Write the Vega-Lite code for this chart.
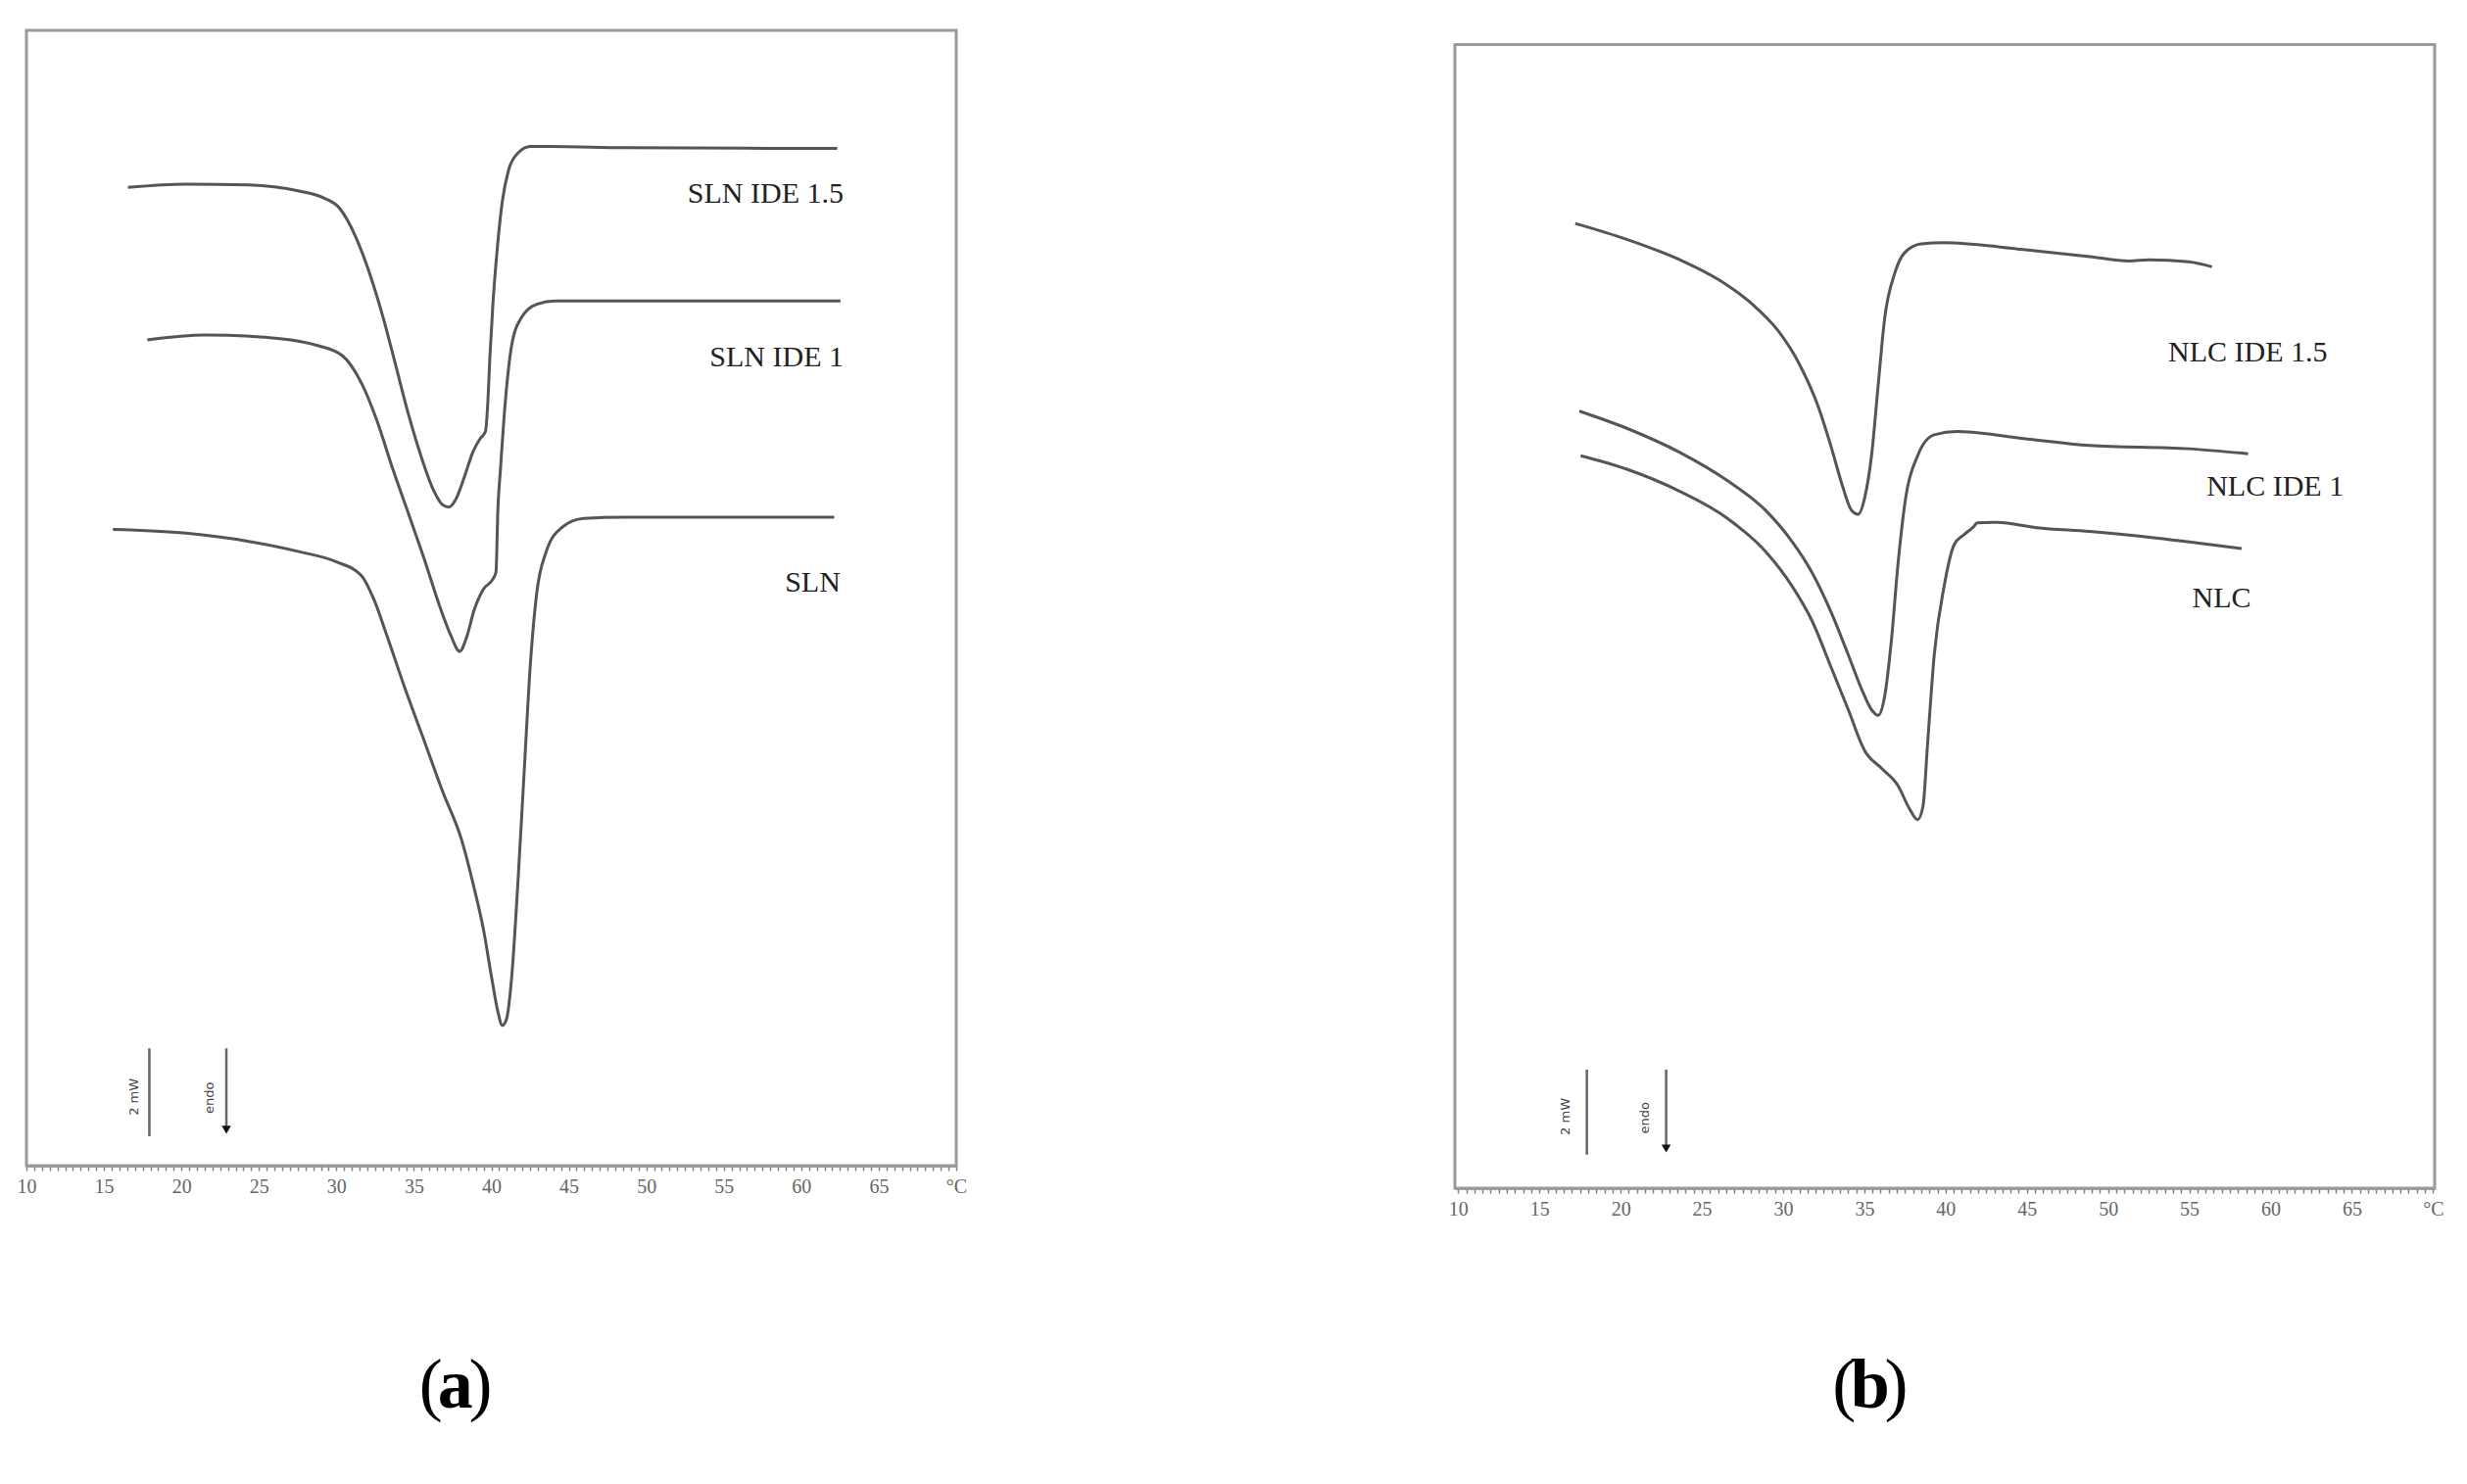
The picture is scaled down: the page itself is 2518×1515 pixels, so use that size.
{
  "$schema": "https://vega.github.io/schema/vega-lite/v6.json",
  "background": "white",
  "padding": {"left": 17, "top": 29, "right": 10, "bottom": 10},
  "autosize": {"type": "pad"},
  "bounds": "flush",
  "spacing": 509,
  "config": {
    "view": {"stroke": null},
    "axisY": {"disable": true},
    "axisX": {
      "grid": false,
      "domainColor": "#808080",
      "domainWidth": 2.5,
      "tickColor": "#808080",
      "tickWidth": 1.5,
      "tickSize": 5,
      "labelFont": "Liberation Sans Narrow",
      "labelFontSize": 20,
      "labelColor": "#666666",
      "labelPadding": 6,
      "labelOverlap": false,
      "labelBound": false,
      "labelFlush": false
    }
  },
  "datasets": {
    "curvesA": [
      {"s":"SLN IDE 1.5","T":16.55,"v":23.93},{"s":"SLN IDE 1.5","T":20.30,"v":24.01},{"s":"SLN IDE 1.5","T":24.34,"v":23.99},{"s":"SLN IDE 1.5","T":27.58,"v":23.84},{"s":"SLN IDE 1.5","T":29.19,"v":23.67},{"s":"SLN IDE 1.5","T":30.20,"v":23.42},{"s":"SLN IDE 1.5","T":31.21,"v":22.75},{"s":"SLN IDE 1.5","T":32.22,"v":21.74},{"s":"SLN IDE 1.5","T":33.03,"v":20.73},{"s":"SLN IDE 1.5","T":33.84,"v":19.56},{"s":"SLN IDE 1.5","T":34.65,"v":18.38},{"s":"SLN IDE 1.5","T":35.45,"v":17.37},{"s":"SLN IDE 1.5","T":36.26,"v":16.53},{"s":"SLN IDE 1.5","T":36.87,"v":16.16},{"s":"SLN IDE 1.5","T":37.27,"v":16.11},{"s":"SLN IDE 1.5","T":37.68,"v":16.28},{"s":"SLN IDE 1.5","T":38.28,"v":16.87},{"s":"SLN IDE 1.5","T":38.81,"v":17.46},{"s":"SLN IDE 1.5","T":39.29,"v":17.79},{"s":"SLN IDE 1.5","T":39.62,"v":17.96},{"s":"SLN IDE 1.5","T":39.78,"v":18.72},{"s":"SLN IDE 1.5","T":39.90,"v":19.73},{"s":"SLN IDE 1.5","T":40.10,"v":21.07},{"s":"SLN IDE 1.5","T":40.38,"v":22.42},{"s":"SLN IDE 1.5","T":40.71,"v":23.59},{"s":"SLN IDE 1.5","T":41.11,"v":24.35},{"s":"SLN IDE 1.5","T":41.72,"v":24.77},{"s":"SLN IDE 1.5","T":42.53,"v":24.93},{"s":"SLN IDE 1.5","T":43.74,"v":24.93},{"s":"SLN IDE 1.5","T":48.59,"v":24.90},{"s":"SLN IDE 1.5","T":62.32,"v":24.88},
      {"s":"SLN IDE 1","T":17.80,"v":20.20},{"s":"SLN IDE 1","T":21.52,"v":20.32},{"s":"SLN IDE 1","T":26.36,"v":20.23},{"s":"SLN IDE 1","T":28.79,"v":20.06},{"s":"SLN IDE 1","T":30.40,"v":19.81},{"s":"SLN IDE 1","T":31.62,"v":19.14},{"s":"SLN IDE 1","T":32.63,"v":18.21},{"s":"SLN IDE 1","T":33.64,"v":17.04},{"s":"SLN IDE 1","T":34.65,"v":15.95},{"s":"SLN IDE 1","T":35.66,"v":14.85},{"s":"SLN IDE 1","T":36.67,"v":13.68},{"s":"SLN IDE 1","T":37.35,"v":13.00},{"s":"SLN IDE 1","T":37.96,"v":12.58},{"s":"SLN IDE 1","T":38.40,"v":12.92},{"s":"SLN IDE 1","T":38.89,"v":13.59},{"s":"SLN IDE 1","T":39.49,"v":14.10},{"s":"SLN IDE 1","T":40.10,"v":14.35},{"s":"SLN IDE 1","T":40.30,"v":14.52},{"s":"SLN IDE 1","T":40.42,"v":16.03},{"s":"SLN IDE 1","T":40.59,"v":17.04},{"s":"SLN IDE 1","T":40.91,"v":18.72},{"s":"SLN IDE 1","T":41.31,"v":20.06},{"s":"SLN IDE 1","T":41.92,"v":20.73},{"s":"SLN IDE 1","T":42.93,"v":21.07},{"s":"SLN IDE 1","T":44.14,"v":21.15},{"s":"SLN IDE 1","T":62.53,"v":21.15},
      {"s":"SLN","T":15.58,"v":15.56},{"s":"SLN","T":20.30,"v":15.47},{"s":"SLN","T":24.34,"v":15.27},{"s":"SLN","T":27.58,"v":15.02},{"s":"SLN","T":30.00,"v":14.77},{"s":"SLN","T":31.62,"v":14.43},{"s":"SLN","T":32.42,"v":13.85},{"s":"SLN","T":33.23,"v":13.00},{"s":"SLN","T":34.44,"v":11.66},{"s":"SLN","T":35.66,"v":10.40},{"s":"SLN","T":36.87,"v":9.14},{"s":"SLN","T":38.08,"v":7.97},{"s":"SLN","T":38.89,"v":6.79},{"s":"SLN","T":39.49,"v":5.78},{"s":"SLN","T":40.02,"v":4.60},{"s":"SLN","T":40.42,"v":3.77},{"s":"SLN","T":40.71,"v":3.43},{"s":"SLN","T":40.99,"v":3.60},{"s":"SLN","T":41.31,"v":4.60},{"s":"SLN","T":41.72,"v":6.96},{"s":"SLN","T":42.12,"v":9.65},{"s":"SLN","T":42.53,"v":12.33},{"s":"SLN","T":42.93,"v":14.01},{"s":"SLN","T":43.54,"v":15.02},{"s":"SLN","T":44.55,"v":15.61},{"s":"SLN","T":45.96,"v":15.83},{"s":"SLN","T":48.59,"v":15.86},{"s":"SLN","T":62.12,"v":15.86}
    ],
    "curvesB": [
      {"s":"NLC IDE 1.5","T":17.21,"v":23.59},{"s":"NLC IDE 1.5","T":20.38,"v":23.20},{"s":"NLC IDE 1.5","T":23.64,"v":22.70},{"s":"NLC IDE 1.5","T":26.08,"v":22.20},{"s":"NLC IDE 1.5","T":28.11,"v":21.61},{"s":"NLC IDE 1.5","T":29.74,"v":20.94},{"s":"NLC IDE 1.5","T":30.96,"v":20.18},{"s":"NLC IDE 1.5","T":32.18,"v":19.09},{"s":"NLC IDE 1.5","T":32.99,"v":18.08},{"s":"NLC IDE 1.5","T":33.60,"v":17.24},{"s":"NLC IDE 1.5","T":34.22,"v":16.57},{"s":"NLC IDE 1.5","T":34.62,"v":16.48},{"s":"NLC IDE 1.5","T":35.03,"v":16.90},{"s":"NLC IDE 1.5","T":35.44,"v":17.91},{"s":"NLC IDE 1.5","T":35.84,"v":19.59},{"s":"NLC IDE 1.5","T":36.25,"v":21.27},{"s":"NLC IDE 1.5","T":36.86,"v":22.36},{"s":"NLC IDE 1.5","T":37.47,"v":22.87},{"s":"NLC IDE 1.5","T":38.49,"v":23.09},{"s":"NLC IDE 1.5","T":39.91,"v":23.12},{"s":"NLC IDE 1.5","T":44.79,"v":22.95},{"s":"NLC IDE 1.5","T":48.86,"v":22.78},{"s":"NLC IDE 1.5","T":51.30,"v":22.67},{"s":"NLC IDE 1.5","T":52.52,"v":22.70},{"s":"NLC IDE 1.5","T":54.96,"v":22.65},{"s":"NLC IDE 1.5","T":56.39,"v":22.53},
      {"s":"NLC IDE 1","T":17.46,"v":19.00},{"s":"NLC IDE 1","T":20.38,"v":18.58},{"s":"NLC IDE 1","T":23.64,"v":17.99},{"s":"NLC IDE 1","T":26.49,"v":17.32},{"s":"NLC IDE 1","T":28.93,"v":16.57},{"s":"NLC IDE 1","T":30.55,"v":15.81},{"s":"NLC IDE 1","T":31.77,"v":15.06},{"s":"NLC IDE 1","T":32.99,"v":14.05},{"s":"NLC IDE 1","T":34.01,"v":13.04},{"s":"NLC IDE 1","T":34.83,"v":12.20},{"s":"NLC IDE 1","T":35.44,"v":11.70},{"s":"NLC IDE 1","T":35.84,"v":11.56},{"s":"NLC IDE 1","T":36.25,"v":12.03},{"s":"NLC IDE 1","T":36.66,"v":13.38},{"s":"NLC IDE 1","T":37.06,"v":15.22},{"s":"NLC IDE 1","T":37.55,"v":16.90},{"s":"NLC IDE 1","T":38.28,"v":17.91},{"s":"NLC IDE 1","T":39.30,"v":18.42},{"s":"NLC IDE 1","T":40.72,"v":18.50},{"s":"NLC IDE 1","T":44.79,"v":18.33},{"s":"NLC IDE 1","T":48.86,"v":18.16},{"s":"NLC IDE 1","T":54.96,"v":18.08},{"s":"NLC IDE 1","T":58.62,"v":17.96},
      {"s":"NLC","T":17.54,"v":17.91},{"s":"NLC","T":20.38,"v":17.58},{"s":"NLC","T":23.64,"v":17.04},{"s":"NLC","T":26.49,"v":16.40},{"s":"NLC","T":28.93,"v":15.56},{"s":"NLC","T":30.55,"v":14.72},{"s":"NLC","T":31.77,"v":13.88},{"s":"NLC","T":32.99,"v":12.70},{"s":"NLC","T":34.01,"v":11.70},{"s":"NLC","T":35.03,"v":10.69},{"s":"NLC","T":36.05,"v":10.27},{"s":"NLC","T":37.06,"v":9.85},{"s":"NLC","T":37.80,"v":9.26},{"s":"NLC","T":38.28,"v":9.01},{"s":"NLC","T":38.61,"v":9.34},{"s":"NLC","T":38.89,"v":10.86},{"s":"NLC","T":39.30,"v":13.04},{"s":"NLC","T":39.91,"v":14.72},{"s":"NLC","T":40.52,"v":15.73},{"s":"NLC","T":41.13,"v":15.98},{"s":"NLC","T":41.74,"v":16.18},{"s":"NLC","T":41.94,"v":16.27},{"s":"NLC","T":43.17,"v":16.28},{"s":"NLC","T":45.60,"v":16.15},{"s":"NLC","T":48.86,"v":16.06},{"s":"NLC","T":52.93,"v":15.90},{"s":"NLC","T":58.22,"v":15.64}
    ],
    "labelsA": [
      {"t":"SLN IDE 1.5","T":62.73,"v":23.76},
      {"t":"SLN IDE 1","T":62.73,"v":19.76},
      {"t":"SLN","T":62.53,"v":14.26}
    ],
    "labelsB": [
      {"t":"NLC IDE 1.5","T":63.5,"v":20.43},
      {"t":"NLC IDE 1","T":64.5,"v":17.16},
      {"t":"NLC","T":58.8,"v":14.42}
    ]
  },
  "hconcat": [
    {
      "width": 949,
      "height": 1159,
      "layer": [
        {
          "data": {"values": [{"T":10,"T2":70,"v":0,"v2":27.77}]},
          "mark": {"type": "rect", "fillOpacity": 0, "stroke": "#9a9a9a", "strokeWidth": 3},
          "encoding": {
            "x": {"field": "T", "type": "quantitative", "title": null, "scale": {"domain": [10, 70], "nice": false, "zero": false},
              "axis": {
                "tickCount": 300,
                "values": [10,10.5,11,11.5,12,12.5,13,13.5,14,14.5,15,15.5,16,16.5,17,17.5,18,18.5,19,19.5,20,20.5,21,21.5,22,22.5,23,23.5,24,24.5,25,25.5,26,26.5,27,27.5,28,28.5,29,29.5,30,30.5,31,31.5,32,32.5,33,33.5,34,34.5,35,35.5,36,36.5,37,37.5,38,38.5,39,39.5,40,40.5,41,41.5,42,42.5,43,43.5,44,44.5,45,45.5,46,46.5,47,47.5,48,48.5,49,49.5,50,50.5,51,51.5,52,52.5,53,53.5,54,54.5,55,55.5,56,56.5,57,57.5,58,58.5,59,59.5,60,60.5,61,61.5,62,62.5,63,63.5,64,64.5,65,65.5,66,66.5,67,67.5,68,68.5,69,69.5,70],
                "labelExpr": "datum.value % 5 === 0 ? (datum.value === 70 ? '°C' : format(datum.value, 'd')) : ''",
                "labelOverlap": false
              }
            },
            "x2": {"field": "T2"},
            "y": {"field": "v", "type": "quantitative", "title": null, "axis": null, "scale": {"domain": [0, 27.77], "nice": false, "zero": false}},
            "y2": {"field": "v2"}
          }
        },
        {
          "data": {"name": "curvesA"},
          "mark": {"type": "line", "color": "#555555", "strokeWidth": 3, "interpolate": "monotone"},
          "encoding": {
            "x": {"field": "T", "type": "quantitative", "title": null},
            "y": {"field": "v", "type": "quantitative", "title": null, "axis": null},
            "detail": {"field": "s"}
          }
        },
        {
          "data": {"name": "labelsA"},
          "mark": {"type": "text", "align": "right", "baseline": "middle", "font": "Liberation Serif", "fontSize": 30, "color": "#222222"},
          "encoding": {
            "x": {"field": "T", "type": "quantitative", "title": null},
            "y": {"field": "v", "type": "quantitative", "title": null, "axis": null},
            "text": {"field": "t"}
          }
        },
        {
          "data": {"values": [{"T":17.93,"v":2.87,"v2":0.72,"k":"bar"},{"T":22.9,"v":2.87,"v2":0.9,"k":"endo"}]},
          "mark": {"type": "rule", "color": "#666666", "strokeWidth": 2.5},
          "encoding": {
            "x": {"field": "T", "type": "quantitative", "title": null},
            "y": {"field": "v", "type": "quantitative", "title": null, "axis": null},
            "y2": {"field": "v2"}
          }
        },
        {
          "data": {"values": [{"T":22.9,"v":0.88}]},
          "mark": {"type": "point", "shape": "triangle-down", "filled": true, "color": "#111111", "size": 90, "opacity": 1},
          "encoding": {
            "x": {"field": "T", "type": "quantitative", "title": null},
            "y": {"field": "v", "type": "quantitative", "title": null, "axis": null}
          }
        },
        {
          "data": {"values": [{"t":"2 mW","T":16.95,"v":1.68},{"t":"endo","T":21.85,"v":1.66}]},
          "mark": {"type": "text", "angle": 270, "align": "center", "baseline": "middle", "font": "DejaVu Sans", "fontSize": 13, "color": "#444444"},
          "encoding": {
            "x": {"field": "T", "type": "quantitative", "title": null},
            "y": {"field": "v", "type": "quantitative", "title": null, "axis": null},
            "text": {"field": "t"}
          }
        },
        {
          "data": {"values": [{"t":"(","T":36.1,"v":-5.38,"a":"right"},{"t":")","T":39.3,"v":-5.38,"a":"left"}]},
          "mark": {"type": "text", "baseline": "middle", "font": "Liberation Serif", "fontSize": 72, "color": "#000000"},
          "encoding": {
            "x": {"field": "T", "type": "quantitative", "title": null},
            "y": {"field": "v", "type": "quantitative", "title": null, "axis": null},
            "text": {"field": "t"},
            "align": {"field": "a", "type": "nominal", "scale": null, "legend": null}
          }
        },
        {
          "data": {"values": [{"t":"a","T":37.67,"v":-5.38}]},
          "mark": {"type": "text", "align": "center", "baseline": "middle", "font": "Liberation Serif", "fontSize": 72, "fontWeight": "bold", "color": "#000000"},
          "encoding": {
            "x": {"field": "T", "type": "quantitative", "title": null},
            "y": {"field": "v", "type": "quantitative", "title": null, "axis": null},
            "text": {"field": "t"}
          }
        }
      ]
    },
    {
      "width": 1000,
      "height": 1182,
      "layer": [
        {
          "data": {"values": [{"T":9.8,"T2":70.1,"v":0,"v2":27.96}]},
          "mark": {"type": "rect", "fillOpacity": 0, "stroke": "#9a9a9a", "strokeWidth": 3},
          "encoding": {
            "x": {"field": "T", "type": "quantitative", "title": null, "scale": {"domain": [9.8, 70.1], "nice": false, "zero": false},
              "axis": {
                "tickCount": 300,
                "values": [10,10.5,11,11.5,12,12.5,13,13.5,14,14.5,15,15.5,16,16.5,17,17.5,18,18.5,19,19.5,20,20.5,21,21.5,22,22.5,23,23.5,24,24.5,25,25.5,26,26.5,27,27.5,28,28.5,29,29.5,30,30.5,31,31.5,32,32.5,33,33.5,34,34.5,35,35.5,36,36.5,37,37.5,38,38.5,39,39.5,40,40.5,41,41.5,42,42.5,43,43.5,44,44.5,45,45.5,46,46.5,47,47.5,48,48.5,49,49.5,50,50.5,51,51.5,52,52.5,53,53.5,54,54.5,55,55.5,56,56.5,57,57.5,58,58.5,59,59.5,60,60.5,61,61.5,62,62.5,63,63.5,64,64.5,65,65.5,66,66.5,67,67.5,68,68.5,69,69.5,70],
                "labelExpr": "datum.value % 5 === 0 ? (datum.value === 70 ? '°C' : format(datum.value, 'd')) : ''",
                "labelOverlap": false
              }
            },
            "x2": {"field": "T2"},
            "y": {"field": "v", "type": "quantitative", "title": null, "axis": null, "scale": {"domain": [0, 28.31], "nice": false, "zero": false}},
            "y2": {"field": "v2"}
          }
        },
        {
          "data": {"name": "curvesB"},
          "mark": {"type": "line", "color": "#555555", "strokeWidth": 3, "interpolate": "monotone"},
          "encoding": {
            "x": {"field": "T", "type": "quantitative", "title": null},
            "y": {"field": "v", "type": "quantitative", "title": null, "axis": null},
            "detail": {"field": "s"}
          }
        },
        {
          "data": {"name": "labelsB"},
          "mark": {"type": "text", "align": "right", "baseline": "middle", "font": "Liberation Serif", "fontSize": 30, "color": "#222222"},
          "encoding": {
            "x": {"field": "T", "type": "quantitative", "title": null},
            "y": {"field": "v", "type": "quantitative", "title": null, "axis": null},
            "text": {"field": "t"}
          }
        },
        {
          "data": {"values": [{"T":17.92,"v":2.90,"v2":0.82,"k":"bar"},{"T":22.8,"v":2.90,"v2":1.0,"k":"endo"}]},
          "mark": {"type": "rule", "color": "#666666", "strokeWidth": 2.5},
          "encoding": {
            "x": {"field": "T", "type": "quantitative", "title": null},
            "y": {"field": "v", "type": "quantitative", "title": null, "axis": null},
            "y2": {"field": "v2"}
          }
        },
        {
          "data": {"values": [{"T":22.8,"v":0.97}]},
          "mark": {"type": "point", "shape": "triangle-down", "filled": true, "color": "#111111", "size": 90, "opacity": 1},
          "encoding": {
            "x": {"field": "T", "type": "quantitative", "title": null},
            "y": {"field": "v", "type": "quantitative", "title": null, "axis": null}
          }
        },
        {
          "data": {"values": [{"t":"2 mW","T":16.6,"v":1.75},{"t":"endo","T":21.5,"v":1.72}]},
          "mark": {"type": "text", "angle": 270, "align": "center", "baseline": "middle", "font": "DejaVu Sans", "fontSize": 13, "color": "#444444"},
          "encoding": {
            "x": {"field": "T", "type": "quantitative", "title": null},
            "y": {"field": "v", "type": "quantitative", "title": null, "axis": null},
            "text": {"field": "t"}
          }
        },
        {
          "data": {"values": [{"t":"(","T":33.75,"v":-4.85,"a":"right"},{"t":")","T":36.97,"v":-4.85,"a":"left"}]},
          "mark": {"type": "text", "baseline": "middle", "font": "Liberation Serif", "fontSize": 72, "color": "#000000"},
          "encoding": {
            "x": {"field": "T", "type": "quantitative", "title": null},
            "y": {"field": "v", "type": "quantitative", "title": null, "axis": null},
            "text": {"field": "t"},
            "align": {"field": "a", "type": "nominal", "scale": null, "legend": null}
          }
        },
        {
          "data": {"values": [{"t":"b","T":35.36,"v":-4.85}]},
          "mark": {"type": "text", "align": "center", "baseline": "middle", "font": "Liberation Serif", "fontSize": 72, "fontWeight": "bold", "color": "#000000"},
          "encoding": {
            "x": {"field": "T", "type": "quantitative", "title": null},
            "y": {"field": "v", "type": "quantitative", "title": null, "axis": null},
            "text": {"field": "t"}
          }
        }
      ]
    }
  ]
}
